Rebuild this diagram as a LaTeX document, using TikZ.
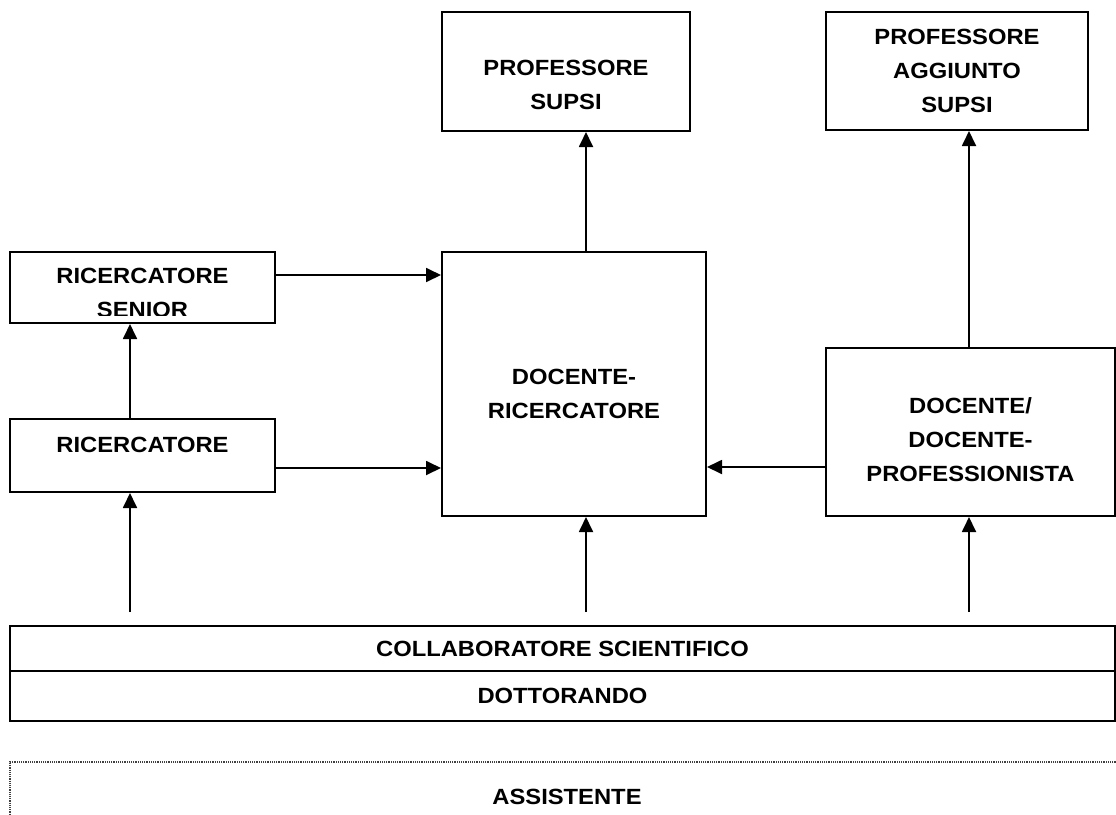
\documentclass[tikz,border=0pt]{standalone}
\usepackage{fontspec}
\setmainfont{Liberation Sans}[FakeStretch=1.08]
\usepackage{tikz}
\usetikzlibrary{positioning,arrows.meta}
\tikzset{
  label text/.style = {font=\bfseries\fontsize{22}{34}\selectfont, align=center},
  basic/.style  = {draw, line width=2pt, rectangle, inner sep=0pt, label text},
  post/.style   = {->, line width=1.8pt},
  dotbox/.style = {draw=black!75, densely dotted, line width=1.2pt, rectangle,
                   inner sep=0pt, label text}
}

\begin{document}
\begin{tikzpicture}[x=1pt,y=-1pt,>={Triangle[length=15pt,width=14pt]}]
  \clip (0,0) rectangle (1116,814);
  \node[basic, minimum width=248pt, minimum height=119pt] (psupsi) at (566,71.5)
       {\mbox{}\\[8pt]PROFESSORE\\SUPSI};
  \node[basic, minimum width=262pt, minimum height=118pt] (pagg) at (957,71)
       {PROFESSORE\\AGGIUNTO\\SUPSI};
  \node[basic, minimum width=265pt, minimum height=71pt, path picture={
         \clip ([yshift=-8pt]path picture bounding box.north west) rectangle
               ([yshift=8pt]path picture bounding box.south east);
         \node[label text] at ([yshift=-5pt]path picture bounding box.center)
               {RICERCATORE\\SENIOR};}] (rsen) at (142.5,287.5) {};
  \node[basic, minimum width=265pt, minimum height=73pt] (ric) at (142.5,455.5)
       {RICERCATORE\\[-12pt]\mbox{}};
  \node[basic, minimum width=264pt, minimum height=264pt] (dric) at (574,384)
       {\mbox{}\\[2pt]DOCENTE-\\RICERCATORE};
  \node[basic, minimum width=289pt, minimum height=168pt] (dprof) at (970.5,432)
       {\mbox{}\\[-2pt]DOCENTE/\\DOCENTE-\\PROFESSIONISTA};
  \node[basic, minimum width=1105pt, minimum height=45pt] (collab) at (562.5,648.5)
       {COLLABORATORE SCIENTIFICO};
  \node[basic, minimum width=1105pt, minimum height=50pt] (dott) at (562.5,696)
       {DOTTORANDO};
  \node[dotbox, minimum width=1114pt, minimum height=70pt] (assist) at (567,797)
       {ASSISTENTE};

  \coordinate (s1) at (130,612);
  \coordinate (s2) at (586,612);
  \coordinate (s3) at (969,612);

  \draw[post] (s1) -- (s1 |- ric.south);
  \draw[post] (s2) -- (s2 |- dric.south);
  \draw[post] (s3) -- (s3 |- dprof.south);
  \draw[post] ([xshift=-12.5pt]ric.north) -- ([xshift=-12.5pt]rsen.south);
  \draw[post] ([yshift=12.5pt]rsen.east) -- ([yshift=12.5pt]rsen.east -| dric.west);
  \draw[post] ([yshift=-12.5pt]ric.east) -- ([yshift=-12.5pt]ric.east -| dric.west);
  \draw[post] ([yshift=-35pt]dprof.west) -- ([yshift=-35pt]dprof.west -| dric.east);
  \draw[post] ([xshift=12pt]dric.north) -- ([xshift=12pt]dric.north |- psupsi.south);
  \draw[post] ([xshift=-1.5pt]dprof.north) -- ([xshift=-1.5pt]dprof.north |- pagg.south);
\end{tikzpicture}
\end{document}
